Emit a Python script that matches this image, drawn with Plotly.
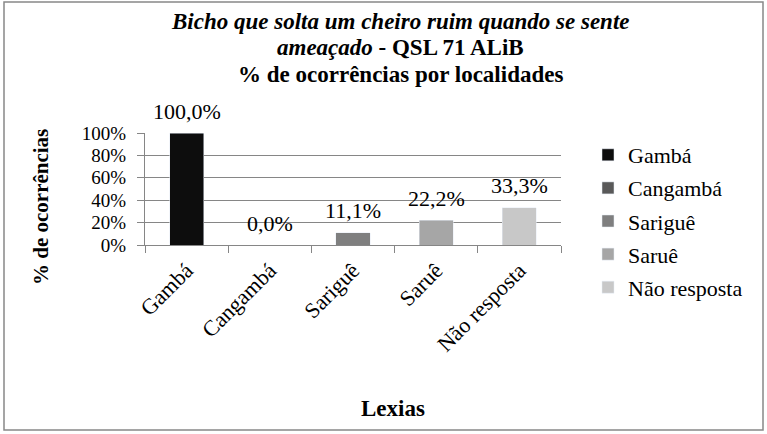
import plotly.graph_objects as go

categories = ["Gambá", "Cangambá", "Sariguê", "Saruê", "Não resposta"]
values = [100.0, 0.0, 11.1, 22.2, 33.3]
colors = ["#0d0d0d", "#595959", "#7f7f7f", "#a6a6a6", "#c8c8c8"]
y_tickvals = [0, 20, 40, 60, 80, 100]
y_ticktext = ["0%", "20%", "40%", "60%", "80%", "100%"]
title_lines = ["<b><i>Bicho que solta um cheiro ruim quando se sente</i></b>",
               "<b><i>ameaçado</i> - QSL 71 ALiB</b>",
               "<b>% de ocorrências por localidades</b>"]

FONT = "Liberation Serif, Times New Roman, serif"
FS = 22
W, H = 767, 434
L, R, T, B = 145, 206, 133, 189
pw, ph = W - L - R, H - T - B


def px(x):
    return (x - L) / pw


def py(y):
    return (H - B - y) / ph


fig = go.Figure()
for c, v, col in zip(categories, values, colors):
    fig.add_trace(go.Bar(x=[c], y=[v], name=c, marker_color=col, width=0.41,
                         legendgroup=c, showlegend=True))
    fig.add_annotation(x=c, y=v, xref="x", yref="y", showarrow=False,
                       text=f"{v:.1f}".replace(".", ",") + "%", yanchor="middle",
                       yshift=22, font=dict(family=FONT, size=FS, color="#000"))

fig.update_layout(
    width=W, height=H, barmode="stack",
    margin=dict(l=L, r=R, t=T, b=B, autoexpand=False),
    paper_bgcolor="white", plot_bgcolor="white",
    font=dict(family=FONT, size=FS, color="#000"),
    legend=dict(x=px(588), xanchor="left", y=py(134), yanchor="top",
                traceorder="grouped", tracegroupgap=1.5, maxheight=300,
                font=dict(family=FONT, size=FS, color="#000"),
                bgcolor="rgba(0,0,0,0)"),
    xaxis=dict(type="category", categoryorder="array", categoryarray=categories,
               showgrid=False, showline=True, linecolor="#868686", linewidth=1,
               ticks="outside", tickson="boundaries", ticklen=7, tickcolor="#868686",
               tickangle=-45, ticklabelstandoff=3,
               tickfont=dict(family=FONT, size=FS, color="#000")),
    yaxis=dict(range=[0, 100], tickvals=y_tickvals, ticktext=y_ticktext,
               showgrid=True, gridcolor="#868686", gridwidth=1,
               showline=True, linecolor="#868686", linewidth=1,
               ticks="outside", ticklen=7, tickcolor="#868686", ticklabelstandoff=7,
               tickfont=dict(family=FONT, size=19, color="#000"), zeroline=False),
)

# chart title, one annotation per line
for line, yc in zip(title_lines, [21, 47, 74]):
    fig.add_annotation(text=line, xref="paper", yref="paper", x=px(400), y=py(yc),
                       showarrow=False, xanchor="center", yanchor="middle",
                       font=dict(family=FONT, size=23, color="#000"))

# axis titles
fig.add_annotation(text="<b>Lexias</b>", xref="paper", yref="paper",
                   x=px(393), y=py(408), showarrow=False,
                   xanchor="center", yanchor="middle",
                   font=dict(family=FONT, size=23, color="#000"))
fig.add_annotation(text="<b>% de ocorrências</b>", xref="paper", yref="paper",
                   x=px(41), y=py(207), showarrow=False, textangle=-90,
                   xanchor="center", yanchor="middle",
                   font=dict(family=FONT, size=21, color="#000"))

# outer chart border
fig.add_shape(type="rect", xref="paper", yref="paper",
              x0=px(4), x1=px(763), y0=py(430), y1=py(2),
              line=dict(color="#888888", width=1.5), fillcolor="rgba(0,0,0,0)", layer="below")

fig.write_html("out.html", config={"displayModeBar": False},
               post_script="document.body.style.margin='0';")
